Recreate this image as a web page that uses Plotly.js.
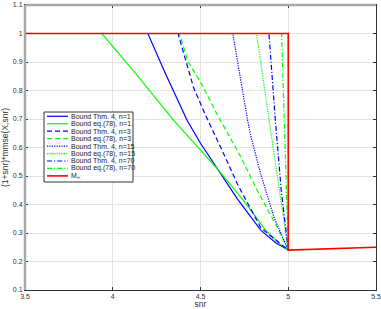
<!DOCTYPE html>
<html>
<head>
<meta charset="utf-8">
<script src="https://cdn.plot.ly/plotly-3.0.1.min.js"></script>
<style>html,body{margin:0;padding:0;background:#fff;}#chart{width:381px;height:309px;}</style>
</head>
<body>
<div id="chart"></div>
<script>
// ---- data ----
const seriesNames = [
  "Bound Thm. 4, n=1", "Bound eq.(78), n=1",
  "Bound Thm. 4, n=3", "Bound eq.(78), n=3",
  "Bound Thm. 4, n=15", "Bound eq.(78), n=15",
  "Bound Thm. 4, n=70", "Bound eq.(78), n=70",
  "M<sub>∞</sub>"
];
const thm4_n1_x = [3.5, 4.2, 4.3, 4.424, 4.5, 4.605, 4.71, 4.843, 4.93, 5.0];
const thm4_n1_y = [1, 1, 0.86, 0.695, 0.615, 0.519, 0.42, 0.31, 0.265, 0.24];
const eq78_n1_x = [3.5, 3.938, 4.15, 4.347, 4.605, 4.75, 4.871, 4.95, 5.0];
const eq78_n1_y = [1, 1, 0.845, 0.695, 0.519, 0.41, 0.31, 0.262, 0.24];
const thm4_n3_x = [3.5, 4.372, 4.46, 4.529, 4.624, 4.71, 4.843, 4.93, 5.0];
const thm4_n3_y = [1, 1, 0.811, 0.713, 0.589, 0.472, 0.319, 0.275, 0.24];
const eq78_n3_x = [3.5, 4.38, 4.43, 4.5, 4.6, 4.72, 4.824, 4.938, 5.0];
const eq78_n3_y = [1, 1, 0.9, 0.83, 0.71, 0.578, 0.449, 0.319, 0.24];
const thm4_n15_x = [3.5, 4.684, 4.767, 4.786, 4.843, 4.919, 5.0];
const thm4_n15_y = [1, 1, 0.7, 0.642, 0.507, 0.355, 0.24];
const eq78_n15_x = [3.5, 4.819, 4.89, 4.947, 5.0];
const eq78_n15_y = [1, 1, 0.7, 0.46, 0.24];
const thm4_n70_x = [3.5, 4.89, 4.926, 4.96, 5.0];
const thm4_n70_y = [1, 1, 0.7, 0.45, 0.24];
const eq78_n70_x = [3.5, 4.962, 4.981, 5.0];
const eq78_n70_y = [1, 1, 0.62, 0.24];
const minf_x = [3.5, 5.0, 5.0, 5.25, 5.5];
const minf_y = [1, 1, 0.24, 0.245, 0.25];

const xTickVals = [3.5, 4, 4.5, 5, 5.5];
const xTickText = ["3.5", "4", "4.5", "5", "5.5"];
const yTickVals = [0.1, 0.2, 0.3, 0.4, 0.5, 0.6, 0.7, 0.8, 0.9, 1, 1.1];
const yTickText = ["0.1", "0.2", "0.3", "0.4", "0.5", "0.6", "0.7", "0.8", "0.9", "1", "1.1"];

// ---- styles ----
const BLUE = "#0000ff", GREEN = "#00ff00", RED = "#ff0000";
const styles = [
  {color: BLUE, dash: "solid", width: 1.2},
  {color: GREEN, dash: "solid", width: 1.2},
  {color: BLUE, dash: "5px,3px", width: 1.2},
  {color: GREEN, dash: "5px,3px", width: 1.2},
  {color: BLUE, dash: "1.2px,1.2px", width: 1.2},
  {color: GREEN, dash: "1.2px,1.2px", width: 1.2},
  {color: BLUE, dash: "5px,2px,1.2px,2px", width: 1.2},
  {color: GREEN, dash: "5px,2px,1.2px,2px", width: 1.2},
  {color: RED, dash: "solid", width: 1.6}
];
const xs = [thm4_n1_x, eq78_n1_x, thm4_n3_x, eq78_n3_x, thm4_n15_x, eq78_n15_x, thm4_n70_x, eq78_n70_x, minf_x];
const ys = [thm4_n1_y, eq78_n1_y, thm4_n3_y, eq78_n3_y, thm4_n15_y, eq78_n15_y, thm4_n70_y, eq78_n70_y, minf_y];

const traces = xs.map((x, i) => ({
  x: x, y: ys[i], type: "scatter", mode: "lines", name: seriesNames[i],
  line: {color: styles[i].color, dash: styles[i].dash, width: styles[i].width},
  hoverinfo: "skip"
}));

// ---- layout geometry (pixels) ----
const W = 381, H = 309;
const L = 25, R = 5, T = 5, B = 19;
const pw = W - L - R, ph = H - T - B;
const px = v => (v - L) / pw;
const py = v => (H - B - v) / ph;

const shapes = [];
const annotations = [];
// frame (MATLAB-like)
shapes.push({type: "line", xref: "paper", yref: "paper", x0: 0, x1: 1, y0: 1, y1: 1, line: {color: "#a8a8a8", width: 2.5}, layer: "above"});
shapes.push({type: "line", xref: "paper", yref: "paper", x0: 0, x1: 0, y0: 0, y1: 1, line: {color: "#a8a8a8", width: 2.5}, layer: "above"});

// legend
const lgX0 = 44, lgX1 = 133, lgY0 = 112, lgY1 = 182;
shapes.push({type: "rect", xref: "paper", yref: "paper", x0: px(lgX0), x1: px(lgX1), y0: py(lgY1), y1: py(lgY0),
  line: {color: "#333", width: 1}, fillcolor: "#fff", layer: "above"});
seriesNames.forEach((nm, i) => {
  const yy = 116.3 + i * 7.45;
  shapes.push({type: "line", xref: "paper", yref: "paper", x0: px(47), x1: px(68), y0: py(yy), y1: py(yy),
    line: {color: styles[i].color, dash: styles[i].dash, width: styles[i].width}, layer: "above"});
  annotations.push({xref: "paper", yref: "paper", x: px(69), y: py(yy), text: nm, showarrow: false,
    xanchor: "left", yanchor: "middle", font: {family: "Liberation Sans, Arial, sans-serif", size: 7, color: "#222"}});
});

const layout = {
  width: W, height: H,
  margin: {l: L, r: R, t: T, b: B, pad: 0},
  paper_bgcolor: "#fff", plot_bgcolor: "#fff",
  showlegend: false,
  font: {family: "Liberation Sans, Arial, sans-serif", size: 7, color: "#333"},
  xaxis: {
    range: [3.5, 5.5], tickvals: xTickVals, ticktext: xTickText,
    ticks: "inside", ticklen: 3, tickcolor: "#333", tickwidth: 1,
    showline: true, linecolor: "#333", linewidth: 1, mirror: "ticks",
    showgrid: true, gridcolor: "#e3e3e3", gridwidth: 1, zeroline: false,
    tickfont: {size: 7, color: "#333"},
    title: {text: "snr", font: {size: 8.5, color: "#333"}, standoff: 2},
    automargin: false
  },
  yaxis: {
    range: [0.1, 1.1], tickvals: yTickVals, ticktext: yTickText,
    ticks: "inside", ticklen: 3, tickcolor: "#333", tickwidth: 1,
    showline: true, linecolor: "#333", linewidth: 1, mirror: "ticks",
    showgrid: true, gridcolor: "#e3e3e3", gridwidth: 1, zeroline: false,
    tickfont: {size: 7, color: "#333"},
    title: {text: "(1+snr)*mmse(X,snr)", font: {size: 8.5, color: "#333"}, standoff: 2},
    automargin: false
  },
  shapes: shapes,
  annotations: annotations
};

Plotly.newPlot("chart", traces, layout, {staticPlot: true, displayModeBar: false});
</script>
</body>
</html>
